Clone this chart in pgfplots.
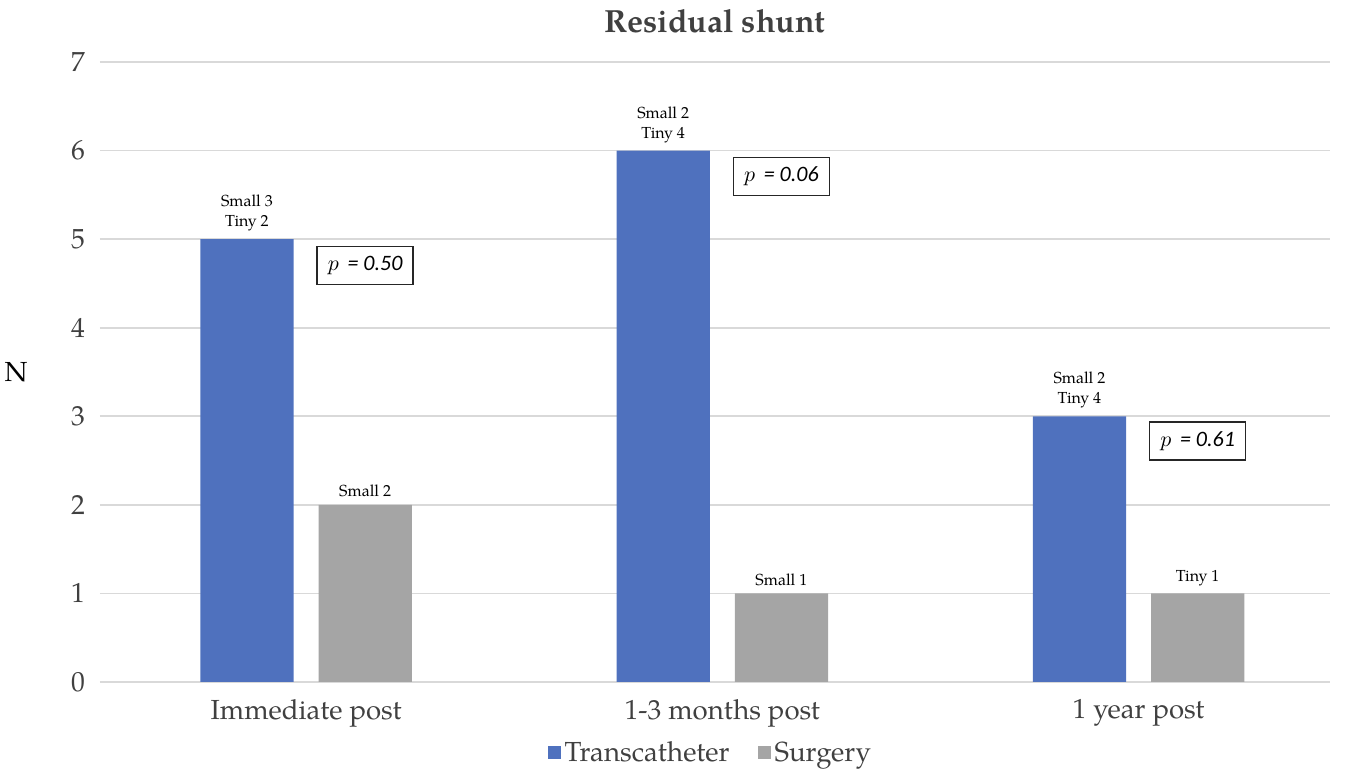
\documentclass[border=0pt]{standalone}
\usepackage{fontspec}
\setmainfont{TeX Gyre Pagella}
\newfontfamily\calibri{Carlito}
\usepackage{pgfplots}
\pgfplotsset{compat=1.18}

\definecolor{tcblue}{HTML}{4F71BE}
\definecolor{surggray}{HTML}{A5A5A5}
\definecolor{gridgray}{HTML}{D9D9D9}
\definecolor{txt}{HTML}{404040}

\begin{document}
\begin{tikzpicture}
    \begin{axis}[
        name=ax,
        scale only axis,
        width=615pt, height=310pt,
        xmin=-0.495, xmax=2.46,
        ymin=0, ymax=7,
        xtick={0,1,2},
        xticklabels={Immediate post, 1-3 months post, 1 year post},
        ytick={0,1,...,7},
        major tick length=0pt,
        axis line style={draw=none},
        ymajorgrids=true,
        grid style={gridgray, line width=0.9pt},
        /pgf/number format/assume math mode=true,
        ticklabel style={font=\fontsize{13.8}{16}\selectfont, text=txt},
        yticklabel style={xshift=-4pt},
        xticklabel style={yshift=-5pt},
        title={\textbf{Residual shunt}},
        title style={font=\fontsize{16}{19}\selectfont, text=txt, yshift=5pt},
        ylabel={N},
        every axis y label/.style={at={(ticklabel* cs:0.5)}, anchor=center,
            xshift=-42pt, font=\fontsize{13.8}{16}\selectfont, text=black},
        legend columns=2,
        legend style={draw=none, at={(0.497,-0.082)}, anchor=north,
            font=\fontsize{13.8}{16}\selectfont, text=txt,
            /tikz/every even column/.append style={column sep=12pt}},
        legend image code/.code={\fill[#1] (0pt,-3pt) rectangle (6.5pt,3.5pt);},
    ]
    \addplot[ybar, bar width=0.224, bar shift=-0.142, fill=tcblue, draw=none]
        coordinates {(0,5) (1,6) (2,3)};
    \addplot[ybar, bar width=0.224, bar shift=0.142, fill=surggray, draw=none]
        coordinates {(0,2) (1,1) (2,1)};
    \legend{Transcatheter, Surgery}

    % labels above bars
    \begin{scope}[every node/.style={font=\fontsize{8}{10}\selectfont, align=center, anchor=south, inner sep=1.5pt}]
    \node at (axis cs:-0.142,5.05) {Small 3\\Tiny 2};
    \node at (axis cs:0.142,2.05) {Small 2};
    \node at (axis cs:0.858,6.05) {Small 2\\Tiny 4};
    \node at (axis cs:1.142,1.05) {Small 1};
    \node at (axis cs:1.858,3.05) {Small 2\\Tiny 4};
    \node at (axis cs:2.142,1.05) {Tiny 1};
    \end{scope}

    % p-values
    \begin{scope}[every node/.style={draw=black!85, line width=0.7pt, fill=white,
        font=\calibri\itshape\fontsize{11}{13}\selectfont,
        minimum width=48pt, minimum height=19pt, inner sep=2pt}]
    \node at (axis cs:0.142,4.70) {$p$ \,= 0.50};
    \node at (axis cs:1.142,5.71) {$p$ \,= 0.06};
    \node at (axis cs:2.142,2.72) {$p$ \,= 0.61};
    \end{scope}
    \end{axis}
    \pgfresetboundingbox
    \path[use as bounding box] ([shift={(-50pt,-46pt)}]ax.south west) rectangle ([shift={(10pt,31pt)}]ax.north east);
\end{tikzpicture}
\end{document}
